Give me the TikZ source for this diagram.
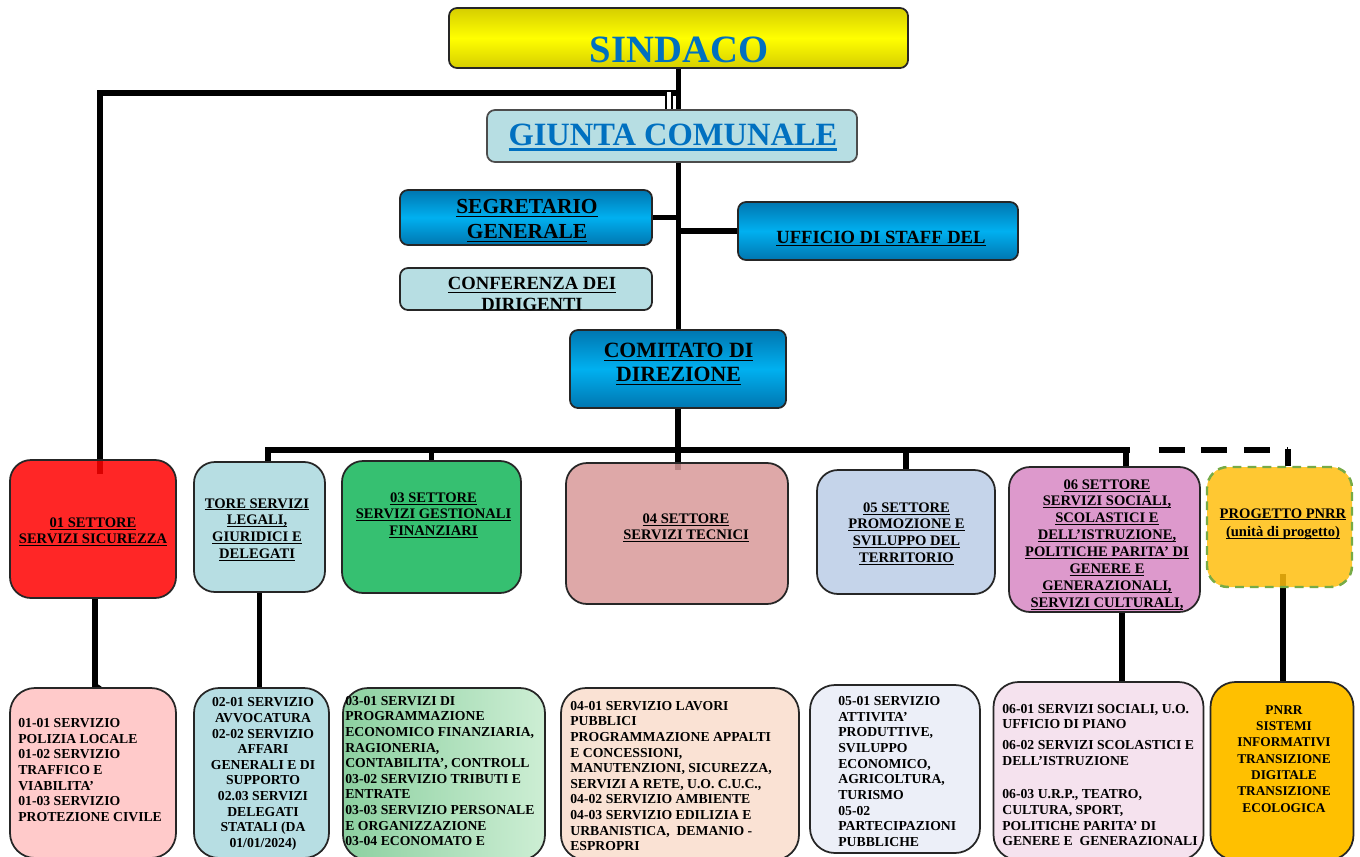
\documentclass[tikz,border=0pt]{standalone}
\usepackage{fontspec}
\setmainfont{Liberation Serif}
\usepackage{xcolor}
\usetikzlibrary{backgrounds}

\definecolor{capoblu}{RGB}{0,112,192}
\definecolor{azzurro}{RGB}{183,222,227}
\definecolor{ciano}{RGB}{0,176,240}
\definecolor{cianoscuro}{RGB}{0,118,176}
\definecolor{giallo}{RGB}{255,255,0}
\definecolor{gialloscuro}{RGB}{214,206,0}
\definecolor{verde}{RGB}{54,192,113}
\definecolor{rosa}{RGB}{216,153,153}
\definecolor{lilla}{RGB}{197,212,234}
\definecolor{viola}{RGB}{221,153,204}
\definecolor{arancio}{RGB}{255,190,14}
\definecolor{bordoverde}{RGB}{119,171,70}
\definecolor{rosachiaro}{RGB}{255,202,202}
\definecolor{verdechiaro}{RGB}{140,208,160}
\definecolor{verdepallido}{RGB}{205,238,212}
\definecolor{pesca}{RGB}{250,226,212}
\definecolor{grigioblu}{RGB}{236,239,248}
\definecolor{rosapallido}{RGB}{245,226,238}
\definecolor{oro}{RGB}{255,192,0}

\newcommand{\undl}[1]{\setbox0\hbox{#1}\rlap{\copy0}\raisebox{-0.17em}{\rule{\wd0}{0.07em}}}

\begin{document}
\begin{tikzpicture}[
    x=0.02cm, y=-0.02cm,
    wh/.style 2 args={minimum width=#1*0.02cm, minimum height=#2*0.02cm, inner sep=0pt},
    conn/.style={line width=3.2pt},
    head/.style={draw=black!85, line width=1pt, rounded corners=0.16cm},
    blu/.style={head, top color=cianoscuro, bottom color=cianoscuro, middle color=ciano},
    sect/.style={draw=black!85, line width=1pt, rounded corners=0.42cm},
    serv/.style={draw=black!85, line width=1pt, rounded corners=0.5cm},
    htxt/.style={align=center, inner sep=0pt, font=\bfseries\fontsize{12.2}{14.2}\selectfont},
    stxt/.style={align=center, inner sep=0pt, font=\bfseries\fontsize{8.3}{9.6}\selectfont},
    btxt/.style={align=left, inner sep=0pt, font=\bfseries\fontsize{7.8}{8.9}\selectfont}
  ]
    \useasboundingbox (0,0) rectangle (1360,856);
    \clip (0,0) rectangle (1360,856);

    \node[head, top color=gialloscuro, bottom color=gialloscuro, middle color=giallo, wh={459}{60}] (sind) at (678.5,38) {};
    \node[anchor=base, inner sep=0pt, text=capoblu, font=\bfseries\fontsize{22}{26}\selectfont] (sindt) at (679,62) {SINDACO};
    \node[head, draw=black!70, fill=azzurro, wh={370}{52}] (giunta) at (672,136) {};
    \node[anchor=base, inner sep=0pt, text=capoblu, font=\bfseries\fontsize{18.5}{22}\selectfont] (giuntat) at (673,145) {\undl{GIUNTA COMUNALE}};
    \node[blu, wh={252}{55}] (seg) at (526,217.5) {};
    \node[htxt, anchor=north] (segt) at (527,199) {\undl{SEGRETARIO}\\\undl{GENERALE}};
    \node[blu, wh={280}{58}] (staff) at (878,231) {};
    \node[htxt, anchor=base, font=\bfseries\fontsize{10.6}{12}\selectfont] (stafft) at (881,243) {\undl{UFFICIO DI STAFF DEL}};
    \node[head, fill=azzurro, wh={252}{42}] (conf) at (526,289) {};
    \begin{scope}
      \clip (conf.south west) rectangle (conf.north east);
      \node[htxt, anchor=north, font=\bfseries\fontsize{10.6}{11.9}\selectfont] (conft) at (532,277) {\undl{CONFERENZA DEI}\\\undl{DIRIGENTI}};
    \end{scope}
    \node[blu, wh={216}{78}] (comit) at (678,369) {};
    \node[htxt, anchor=north, font=\bfseries\fontsize{12.4}{13.6}\selectfont] (comitt) at (678.5,343) {\undl{COMITATO DI}\\\undl{DIREZIONE}};

    \node[sect, fill=red, fill opacity=0.85, wh={166}{138}] (s1) at (93,529) {};
    \node[stxt, anchor=north] (s1t) at (93,517) {\undl{01 SETTORE}\\\undl{SERVIZI SICUREZZA}};
    \node[sect, fill=azzurro, wh={131}{130}] (s2) at (259.5,527) {};
    \node[stxt, anchor=north] (s2t) at (257,498) {\undl{TORE SERVIZI}\\\undl{LEGALI,}\\\undl{GIURIDICI E}\\\undl{DELEGATI}};
    \node[sect, fill=verde, wh={179}{132}] (s3) at (431.5,527) {};
    \node[stxt, anchor=north] (s3t) at (433.5,492) {\undl{03 SETTORE}\\\undl{SERVIZI GESTIONALI}\\\undl{FINANZIARI}};
    \node[sect, fill=rosa, fill opacity=0.85, wh={222}{141}] (s4) at (677,533.5) {};
    \node[stxt, anchor=north] (s4t) at (686,513) {\undl{04 SETTORE}\\\undl{SERVIZI TECNICI}};
    \node[sect, fill=lilla, wh={178}{124}] (s5) at (906,532) {};
    \node[stxt, anchor=north] (s5t) at (906.5,502) {\undl{05 SETTORE}\\\undl{PROMOZIONE E}\\\undl{SVILUPPO DEL}\\\undl{TERRITORIO}};
    \node[sect, fill=viola, wh={191}{145}] (s6) at (1104.5,539.5) {};
    \node[stxt, anchor=north] (s6t) at (1107,479) {\undl{06 SETTORE}\\\undl{SERVIZI SOCIALI,}\\\undl{SCOLASTICI E}\\\undl{DELL'ISTRUZIONE,}\\\undl{POLITICHE PARITA' DI}\\\undl{GENERE E}\\\undl{GENERAZIONALI,}\\\undl{SERVIZI CULTURALI,}};
    \node[sect, draw=bordoverde, dash pattern=on 5pt off 3.5pt, line width=1.4pt, fill=arancio, fill opacity=0.85, wh={145}{120}] (pnrr) at (1279.5,527) {};
    \node[stxt, anchor=north] (pnrrt) at (1283,508) {\undl{PROGETTO PNRR}\\[1pt]\undl{(unità di progetto)}};

    \node[serv, fill=rosachiaro, wh={166}{170}] (b1) at (93,773) {};
    \node[btxt, anchor=west] (b1t) at (18,770) {01-01 SERVIZIO\\POLIZIA LOCALE\\01-02 SERVIZIO\\TRAFFICO E\\VIABILITA'\\01-03 SERVIZIO\\PROTEZIONE CIVILE};
    \node[serv, fill=azzurro, wh={135}{170}] (b2) at (261.5,773) {};
    \node[btxt, align=center] (b2t) at (263,774) {02-01 SERVIZIO\\AVVOCATURA\\02-02 SERVIZIO\\AFFARI\\GENERALI E DI\\SUPPORTO\\02.03 SERVIZI\\DELEGATI\\STATALI (DA\\01/01/2024)};
    \node[serv, left color=verdechiaro, right color=verdepallido, wh={202}{172}] (b3) at (444,774) {};
    \node[btxt, anchor=west] (b3t) at (345,771) {03-01 SERVIZI DI\\PROGRAMMAZIONE\\ECONOMICO FINANZIARIA,\\RAGIONERIA,\\CONTABILITA', CONTROLL\\03-02 SERVIZIO TRIBUTI E\\ENTRATE\\03-03 SERVIZIO PERSONALE\\E ORGANIZZAZIONE\\03-04 ECONOMATO E};
    \node[serv, fill=pesca, wh={238}{172}] (b4) at (680,774) {};
    \node[btxt, anchor=west] (b4t) at (570,776) {04-01 SERVIZIO LAVORI\\PUBBLICI\\PROGRAMMAZIONE APPALTI\\E CONCESSIONI,\\MANUTENZIONI, SICUREZZA,\\SERVIZI A RETE, U.O. C.U.C.,\\04-02 SERVIZIO AMBIENTE\\04-03 SERVIZIO EDILIZIA E\\URBANISTICA,\ \ DEMANIO -\\ESPROPRI};
    \node[serv, fill=grigioblu, wh={170}{168}] (b5) at (895,769) {};
    \node[btxt, anchor=west] (b5t) at (838,771.5) {05-01 SERVIZIO\\ATTIVITA'\\PRODUTTIVE,\\SVILUPPO\\ECONOMICO,\\AGRICOLTURA,\\TURISMO\\05-02\\PARTECIPAZIONI\\PUBBLICHE};
    \node[serv, fill=rosapallido, wh={210}{178}] (b6) at (1098.5,771) {};
    \node[btxt, anchor=west] (b6t) at (1002,775) {06-01 SERVIZI SOCIALI, U.O.\\UFFICIO DI PIANO\\[3pt]06-02 SERVIZI SCOLASTICI E\\DELL'ISTRUZIONE\\[10pt]06-03 U.R.P., TEATRO,\\CULTURA, SPORT,\\POLITICHE PARITA' DI\\GENERE E\ \ GENERAZIONALI};
    \node[serv, fill=oro, wh={143}{178}] (bp) at (1282,771) {};
    \node[btxt, align=center, font=\bfseries\fontsize{7.6}{9.3}\selectfont] (bpt) at (1284,759) {PNRR\\SISTEMI\\INFORMATIVI\\TRANSIZIONE\\DIGITALE\\TRANSIZIONE\\ECOLOGICA};

    \coordinate (k1) at (100,93);
    \coordinate (bus) at (678,450);
    \begin{scope}[on background layer]
      \draw[conn] (s1.north) ++(7,15) |- (comit.north |- k1);
      \draw[line width=1pt, double=white, double distance=2.6pt] (giunta.north) ++(-3,0) -- ++(0,-17);
      \draw[conn] (sind.south) -- (sind.south |- comit.north);
      \draw[conn] (seg.east) -- (seg.east -| comit.north);
      \draw[conn] (staff.west) -- (staff.west -| comit.north);
      \draw[conn] (comit.south) -- (comit.south |- s4.north) -- ++(0,8);
      \draw[conn] (s2.north) ++(8.5,0) |- (s6.north |- bus) -- ++(25,0);
      \draw[conn] (s3.north) -- (s3.north |- bus);
      \draw[conn] (s5.north) -- (s5.north |- bus);
      \draw[conn] (s6.north) ++(21.5,0) -- ++(0,-17);
      \draw[conn, dash pattern=on 0.52cm off 0.34cm, dash phase=0.52cm] (s6.north |- bus) ++(37,0) -- (pnrr.north |- bus) -- ++(8.5,0);
      \draw[conn] (pnrr.north) ++(8.5,0) -- ++(0,-17);
      \draw[conn] (s1.south) ++(2,0) -- ++(0,87) -- ++(5,3);
      \draw[conn] (s2.south) -- (s2.south |- b2.north);
      \draw[conn] (s6.south) ++(17.5,0) -- ++(0,70);
      \draw[conn] (pnrr.south) ++(3.5,-14) -- ++(0,109);
    \end{scope}
\end{tikzpicture}
\end{document}
